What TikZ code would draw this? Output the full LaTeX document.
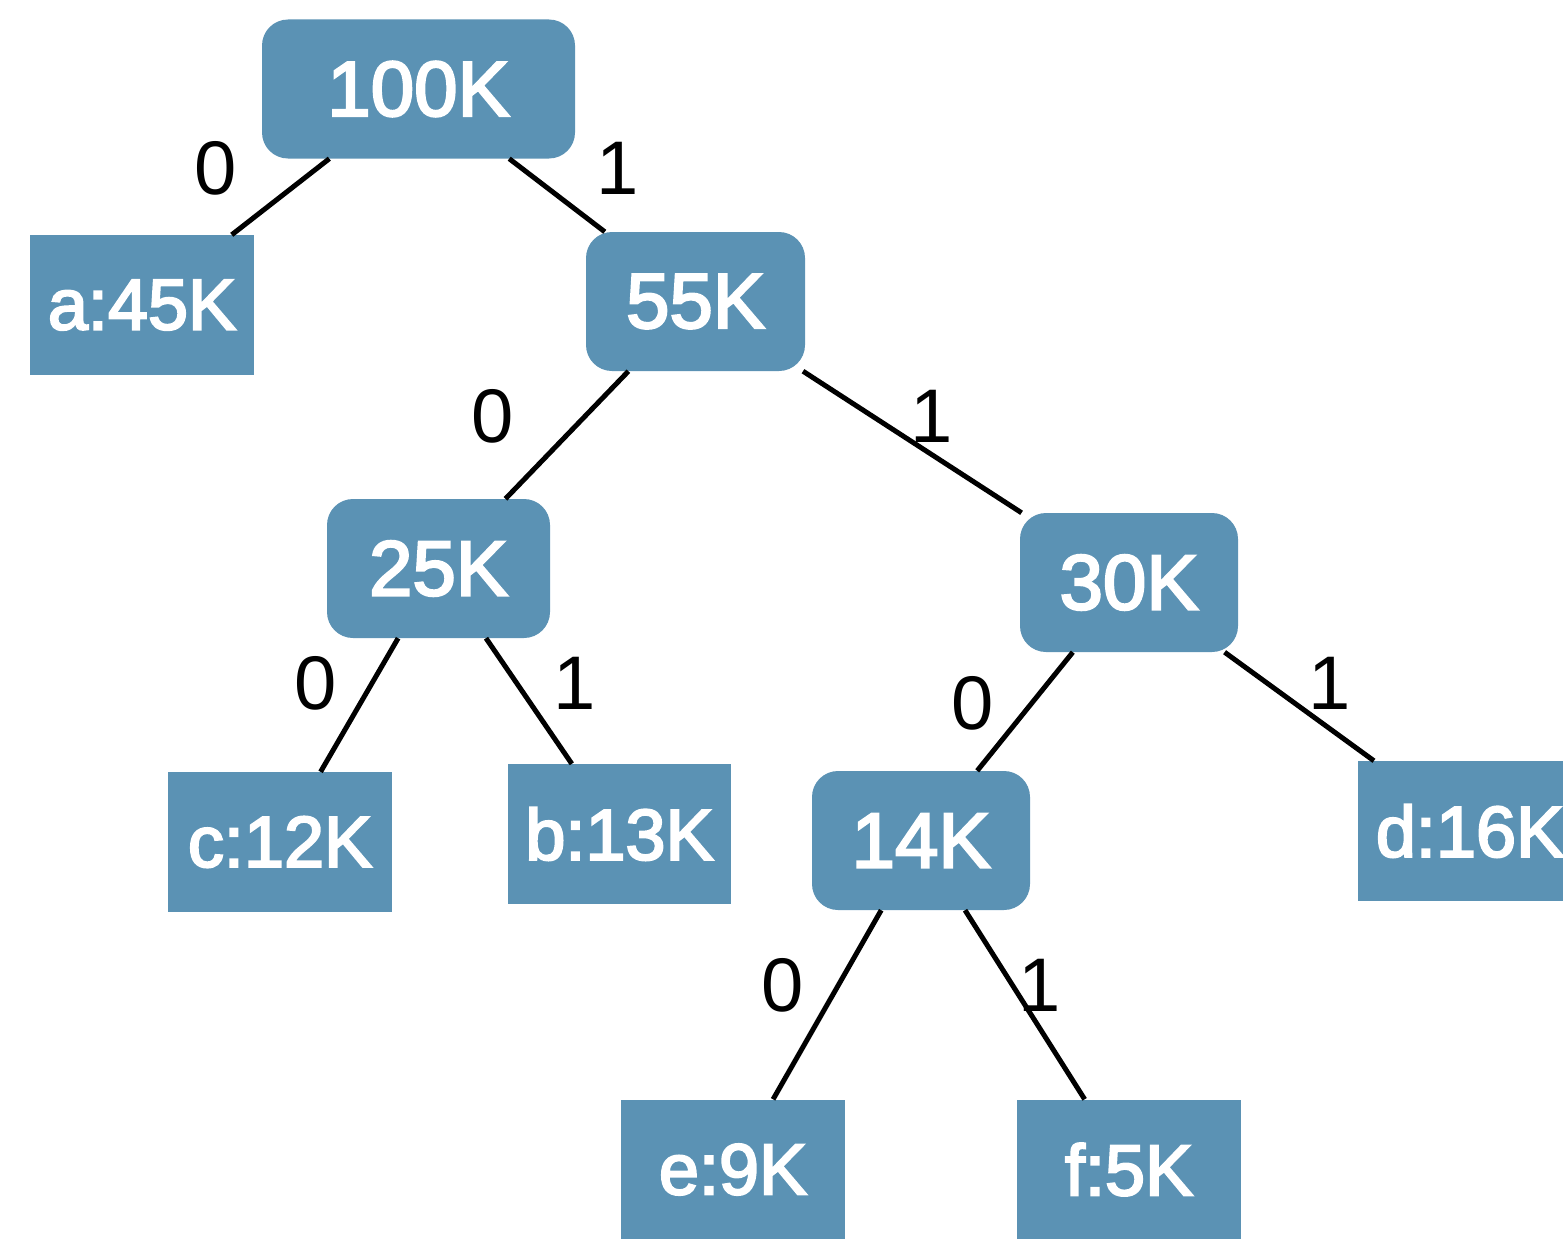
\documentclass[tikz,border=0pt]{standalone}
\usepackage{fontspec}
\setmainfont{Liberation Sans}
\newfontfamily\medfont{Liberation Sans}[FakeBold=3]
\definecolor{nodeblue}{RGB}{91,146,180}
\begin{document}
\begin{tikzpicture}[x=1pt,y=-1pt,
  inner/.style={fill=nodeblue,rounded corners=26pt,minimum width=#1,minimum height=139pt,inner sep=0pt,
    text=white,font=\fontsize{78}{80}\medfont},
  inner/.default=219pt,
  leaf/.style={fill=nodeblue,minimum width=224pt,minimum height=140pt,inner sep=0pt,
    text=white,font=\fontsize{72}{74}\medfont},
  bit/.style={inner sep=0pt,font=\fontsize{76}{80}\selectfont},
  conn/.style={line width=5pt}]
\useasboundingbox (0,0) rectangle (1563,1239);
\node[inner=313pt] (n100) at (418.5,89) {100K};
\node[leaf] (a) at (142,305) {a:45K};
\node[inner] (n55) at (695.5,301.5) {55K};
\node[inner=223pt] (n25) at (438.5,568.5) {25K};
\node[inner=218pt] (n30) at (1129,582.5) {30K};
\node[leaf] (c) at (280,842) {c:12K};
\node[leaf,minimum width=223pt] (b) at (619.5,834) {b:13K};
\node[inner=218pt] (n14) at (921,840.5) {14K};
\node[leaf] (d) at (1470,831) {d:16K};
\node[leaf] (e) at (733,1169.5) {e:9K};
\node[leaf] (f) at (1129,1169.5) {f:5K};
\draw[conn] (n100) -- (a);
\draw[conn] (n100) -- (n55);
\draw[conn] (n55) -- (n25);
\draw[conn] (n55) -- (n30);
\draw[conn] (n25) -- (c);
\draw[conn] (n25) -- (b);
\draw[conn] (n30) -- (n14);
\draw[conn] (n30) -- (d);
\draw[conn] (n14) -- (e);
\draw[conn] (n14) -- (f);
\node[bit] (l1) at (216,168) {0};
\node[bit] (l2) at (618,168) {1};
\node[bit] (l3) at (493,416) {0};
\node[bit] (l4) at (932,416) {1};
\node[bit] (l5) at (316,683) {0};
\node[bit] (l6) at (575,683) {1};
\node[bit] (l7) at (973,703) {0};
\node[bit] (l8) at (1330,683) {1};
\node[bit] (l9) at (783,985) {0};
\node[bit] (l10) at (1040,985) {1};
\end{tikzpicture}
\end{document}
